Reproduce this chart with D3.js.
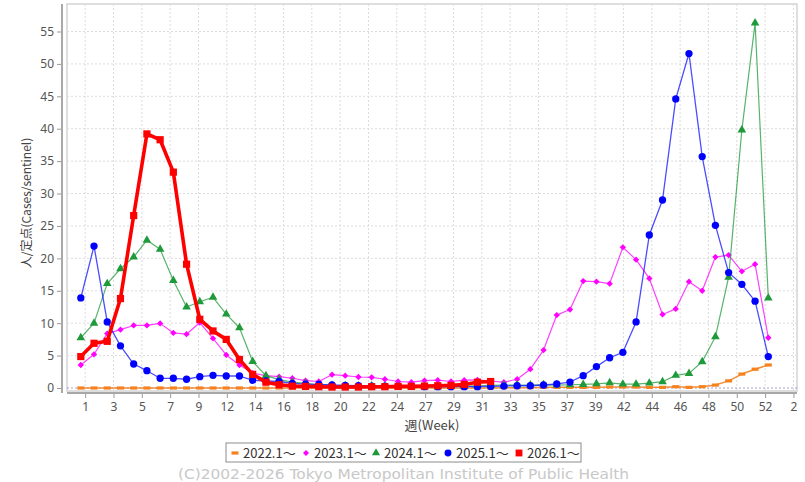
<!DOCTYPE html>
<html><head><meta charset="utf-8">
<script src="https://cdn.jsdelivr.net/npm/d3@7/dist/d3.min.js"></script>
<style>body{margin:0;background:#fff}</style>
</head><body><svg id="c" width="805" height="482"></svg>
<script>
// ---- data (slot 0 = week 1, slot 52 = week 1 of the following year) ----
const tickLabels = ["1","3","5","7","9","12","14","16","18","20","22","24","27","29","31","33","35","37","39","42","44","46","48","50","52","2"];
const yTicks = [0,5,10,15,20,25,30,35,40,45,50,55];
const seriesNames = ["2022.1〜","2023.1〜","2024.1〜","2025.1〜","2026.1〜"];
const s2022 = [0,0,0,0,0,0,0,0,0,0,0,0,0,0,0,0,0,0,0,0,0,0,0,0,0,0,0,0,0,0,0,0,0.05,0.05,0.05,0.1,0.1,0.1,0.1,0.1,0.15,0.15,0.15,0.1,0.1,0.2,0.1,0.2,0.45,1.1,2.15,2.9,3.55];
const s2023 = [3.55,5.2,8.4,9.0,9.65,9.65,9.97,8.5,8.3,10.1,7.65,5.1,3.55,2.3,1.9,1.75,1.5,1.15,1.0,2.05,1.9,1.7,1.65,1.35,1.0,0.9,1.15,1.2,1.0,1.2,1.25,1.05,0.9,1.35,2.9,5.85,11.25,12.1,16.5,16.4,16.1,21.7,19.8,16.9,11.35,12.2,16.4,15.0,20.2,20.5,18.0,19.1,7.75];
const s2024 = [7.75,10.0,16.1,18.4,20.2,22.8,21.4,16.6,12.5,13.3,14.0,11.4,9.3,4.1,1.9,1.3,0.9,0.7,0.5,0.4,0.35,0.3,0.3,0.25,0.2,0.2,0.2,0.2,0.25,0.3,0.35,0.4,0.45,0.45,0.45,0.5,0.45,0.5,0.55,0.65,0.8,0.6,0.6,0.75,0.97,1.95,2.25,4.05,7.9,17.1,39.8,56.3,13.9];
const s2025 = [13.9,21.9,10.2,6.5,3.7,2.67,1.5,1.5,1.35,1.75,1.95,1.85,1.85,1.2,1.08,1.0,0.72,0.6,0.55,0.46,0.4,0.35,0.3,0.3,0.25,0.25,0.2,0.2,0.2,0.2,0.2,0.25,0.3,0.35,0.35,0.46,0.62,0.92,1.9,3.3,4.67,5.5,10.2,23.6,29.0,44.6,51.6,35.7,25.1,17.8,16.0,13.4,4.85];
const s2026 = [4.85,6.9,7.2,13.8,26.6,39.2,38.3,33.3,19.1,10.6,8.8,7.5,4.4,2.1,0.9,0.5,0.3,0.25,0.2,0.15,0.15,0.15,0.2,0.2,0.25,0.25,0.3,0.35,0.4,0.55,0.9,1.0];

// ---- layout ----
const svg = d3.select("#c");
const plot = {l:67, r:797, t:4, b:391};
const x = d3.scaleLinear().domain([0,52]).range([80.8,768.3]);
const y = d3.scaleLinear().domain([0,55]).range([388,31.5]);
const tickStep = 15/7, tickStart = 0.33;
const tickPos = tickLabels.map((l,i)=>tickStart + i*tickStep);

svg.append("rect").attr("width",805).attr("height",482).attr("fill","#fff");
svg.append("rect").attr("x",plot.l).attr("y",plot.t).attr("width",plot.r-plot.l).attr("height",plot.b-plot.t)
  .attr("fill","#fff").attr("stroke","#d4d4d4").attr("stroke-width",1.5);

// grid
const g = svg.append("g");
g.selectAll("line.hg").data(yTicks.filter(d=>d>0)).enter().append("line")
  .attr("x1",plot.l).attr("x2",plot.r).attr("y1",d=>y(d)).attr("y2",d=>y(d))
  .attr("stroke","#dcdcdc").attr("stroke-dasharray","2,2");
g.selectAll("line.vg").data(tickPos).enter().append("line")
  .attr("x1",d=>x(d)).attr("x2",d=>x(d)).attr("y1",plot.t).attr("y2",plot.b)
  .attr("stroke","#dcdcdc").attr("stroke-dasharray","2,2");
g.append("line").attr("x1",plot.l).attr("x2",plot.r).attr("y1",y(0)).attr("y2",y(0))
  .attr("stroke","#8a8ad0").attr("stroke-dasharray","2,2").attr("stroke-width",0.8);

// y axis
const yAxis = d3.axisLeft(y).tickValues(yTicks).tickSize(5).tickPadding(3);
const ya = svg.append("g").attr("transform","translate(62,0)").call(yAxis);
ya.select(".domain").remove();
ya.append("line").attr("x1",0).attr("x2",0).attr("y1",plot.t).attr("y2",plot.b+2).attr("stroke","#a8a8a8").attr("stroke-width",2);
ya.selectAll(".tick line").attr("stroke","#999");
ya.selectAll(".tick text").attr("fill","#555").style("font-family","'Noto Sans', 'DejaVu Sans', sans-serif").style("font-size","12px");

// x axis
const xAxis = d3.axisBottom(x).tickValues(tickPos).tickFormat((d,i)=>tickLabels[i]).tickSize(5).tickPadding(4);
const xa = svg.append("g").attr("transform","translate(0,393)").call(xAxis);
xa.select(".domain").remove();
xa.append("line").attr("x1",plot.l).attr("x2",plot.r).attr("y1",0).attr("y2",0).attr("stroke","#a8a8a8").attr("stroke-width",2);
xa.selectAll(".tick line").attr("stroke","#999");
xa.selectAll(".tick text").attr("fill","#555").style("font-family","'Noto Sans', 'DejaVu Sans', sans-serif").style("font-size","12px");

svg.append("text").attr("x",(plot.l+plot.r)/2).attr("y",430).attr("text-anchor","middle")
  .attr("fill","#444").style("font-family","'Noto Sans CJK JP', sans-serif").style("font-size","13px").text("週(Week)");
svg.append("text").attr("transform","translate(31,203) rotate(-90)").attr("text-anchor","middle")
  .attr("fill","#444").style("font-family","'Noto Sans CJK JP', sans-serif").style("font-size","12px").text("人/定点(Cases/sentinel)");

// series
const series = [
  {data:s2022, color:"#f5821f", width:1.5, op:0.9, marker:"dash"},
  {data:s2023, color:"#ff00ff", width:1.2, op:0.75, marker:"diamond"},
  {data:s2024, color:"#1f9a3a", width:1.2, op:0.75, marker:"triangle"},
  {data:s2025, color:"#0000ff", width:1.3, op:0.7, marker:"circle"},
  {data:s2026, color:"#ff0000", width:3.6, op:1, marker:"square"}
];
const line = d3.line().x((d,i)=>x(i)).y(d=>y(d));
function drawMarker(sel, type, color, k){
  k = k || 1;
  if(type==="dash"){
    sel.append("rect").attr("x",-3.5).attr("y",-1.6).attr("width",7).attr("height",3.2).attr("fill",color);
  } else if(type==="diamond"){
    sel.append("path").attr("d",d3.symbol().type(d3.symbolSquare).size(20*k)()).attr("transform","rotate(45)").attr("fill",color);
  } else {
    const map = {triangle:[d3.symbolTriangle,32], circle:[d3.symbolCircle,42], square:[d3.symbolSquare,52]};
    sel.append("path").attr("d",d3.symbol().type(map[type][0]).size(map[type][1]*k)()).attr("fill",color);
  }
}
series.forEach(s=>{
  const gs = svg.append("g");
  gs.append("path").attr("d",line(s.data)).attr("fill","none").attr("stroke",s.color)
    .attr("stroke-width",s.width).attr("stroke-opacity",s.op).attr("stroke-linejoin","round");
  gs.selectAll("g.m").data(s.data).enter().append("g")
    .attr("transform",(d,i)=>`translate(${x(i)},${y(d)})`)
    .each(function(){ drawMarker(d3.select(this), s.marker, s.color, 1); });
});

// legend
const lg = svg.append("g");
lg.append("rect").attr("x",226).attr("y",443).attr("width",355).attr("height",19).attr("fill","#fff").attr("stroke","#8c8c8c");
const legX = [235,306,376,448,519];
series.forEach((s,i)=>{
  const m = lg.append("g").attr("transform",`translate(${legX[i]},453)`);
  drawMarker(m, s.marker, s.color, 0.9);
  lg.append("text").attr("x",legX[i]+8).attr("y",457.5).attr("fill","#333")
    .style("font-family","'Noto Sans CJK JP', sans-serif").style("font-size","13px").text(seriesNames[i]);
});

// footer
svg.append("text").attr("x",178).attr("y",479).attr("textLength",451).attr("lengthAdjust","spacingAndGlyphs")
  .attr("fill","#c8c8c8").style("font-family","'DejaVu Sans', sans-serif").style("font-size","13.5px")
  .text("(C)2002-2026 Tokyo Metropolitan Institute of Public Health");
</script></body></html>
